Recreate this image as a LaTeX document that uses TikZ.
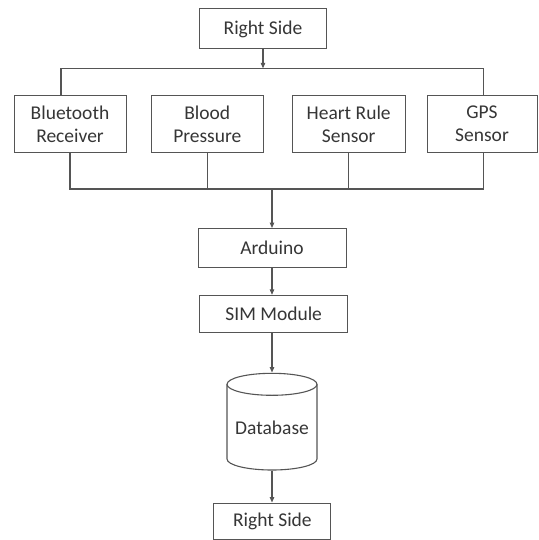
\documentclass[tikz,border=0pt]{standalone}
\usepackage{fontspec}
\setmainfont{Carlito}
\usetikzlibrary{arrows.meta}
\definecolor{txt}{HTML}{363636}
\definecolor{ln}{HTML}{555555}
\begin{document}
\begin{tikzpicture}[x=1pt,y=-1pt,
  box/.style={draw=ln, line width=1pt, text=txt, font=\fontsize{19.5}{23}\selectfont, align=center, inner sep=0pt},
  conn/.style={draw=ln, line width=1.1pt},
  arr/.style={conn, -{Triangle[length=5.5pt,width=4.5pt]}}]
\useasboundingbox (0,0) rectangle (538,540);
\fill[white] (0,0) rectangle (538,540);
% nodes
\node[box, minimum width=127, minimum height=40] (top) at (263,29) {Right Side};
\node[box, minimum width=112, minimum height=57] (bt) at (70,124) {Bluetooth\\Receiver};
\node[box, minimum width=112.6, minimum height=57] (bp) at (207.3,124) {Blood\\Pressure};
\node[box, minimum width=112.6, minimum height=57] (hr) at (348.7,124) {Heart Rule\\Sensor};
\node[box, minimum width=110, minimum height=57] (gps) at (482,124) {GPS\\Sensor};
\node[box, minimum width=148, minimum height=39] (ard) at (272,248) {Arduino};
\node[box, minimum width=148, minimum height=37.4] (sim) at (273.7,314) {SIM Module};
\node[box, draw=none, minimum width=90, minimum height=97,
      label={[box, draw=none, yshift=-6pt]center:Database}] (db) at (272,421.5) {};
\node[box, minimum width=117, minimum height=36] (bot) at (272.4,521) {Right Side};
% cylinder outline
\draw[conn] (272,384.3) ellipse [x radius=45pt, y radius=11pt];
\draw[conn] (227,384.3) -- (227,459) arc[start angle=180, end angle=360, x radius=45pt, y radius=11pt] -- (317,384.3);
% top distribution
\coordinate (tbus) at (263,68.3);
\coordinate (tl) at (61,68.3);
\coordinate (tr) at (483.3,68.3);
\draw[arr] (top.south) -- (tbus);
\draw[conn] (bt.north -| tl) -- (tl) -- (tr) -- (gps.north -| tr);
% bottom collection
\coordinate (bl) at (70,189);
\coordinate (br) at (483.3,189);
\coordinate (bm) at (272,189);
\draw[conn] (bt.south) -- (bt.south |- bl) -- (br) -- (br |- gps.south);
\draw[conn] (bp.south) -- (bp.south |- bl);
\draw[conn] (hr.south) -- (hr.south |- bl);
\draw[arr] (bm) -- (ard.north -| bm);
\draw[arr] (ard.south) -- (ard.south |- sim.north);
\draw[arr] (sim.south -| db.north) -- (db.north);
\draw[arr] (db.south) -- (db.south |- bot.north);
\end{tikzpicture}
\end{document}
